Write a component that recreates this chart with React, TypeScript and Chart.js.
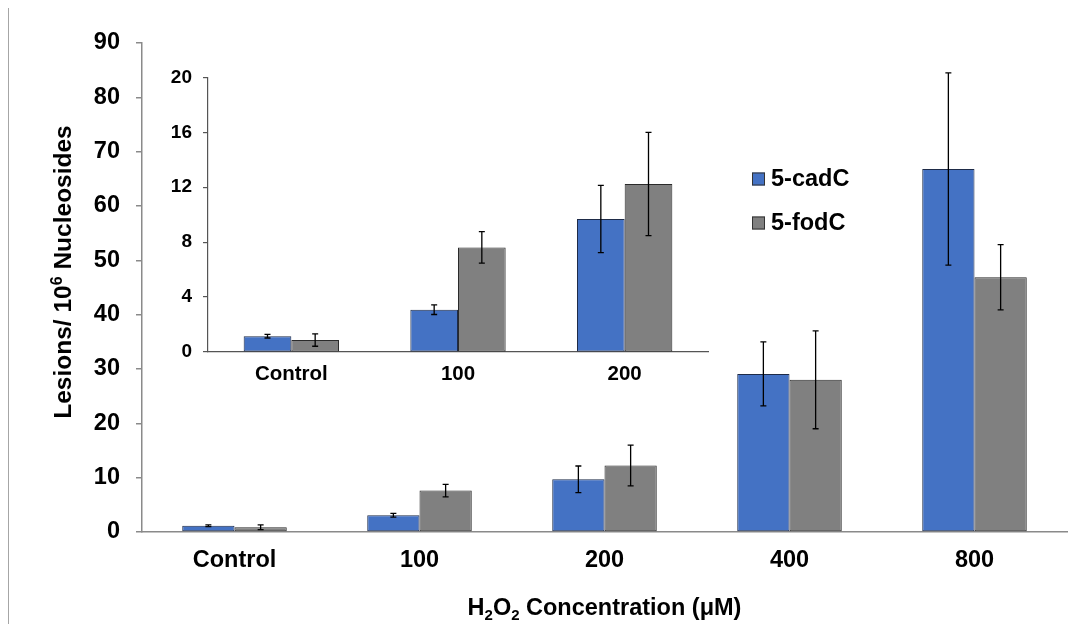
import React, { useEffect, useRef } from "react";
import { Chart, registerables } from "chart.js";

Chart.register(...registerables);

const FONT = "'Liberation Sans', Arial, Helvetica, sans-serif";

// ---------- data ----------
const categories = ["Control", "100", "200", "400", "800"];
const seriesNames = ["5-cadC", "5-fodC"];
const cadC = [1.15, 3.08, 9.7, 29.1, 66.8];
const cadCErr = [0.15, 0.35, 2.45, 5.9, 17.7];
const fodC = [0.87, 7.62, 12.24, 28.0, 46.9];
const fodCErr = [0.45, 1.15, 3.76, 9.0, 6.0];

const insetCategories = ["Control", "100", "200"];
const insetCadC = [1.15, 3.08, 9.69];
const insetCadCErr = [0.13, 0.35, 2.45];
const insetFodC = [0.87, 7.62, 12.24];
const insetFodCErr = [0.45, 1.15, 3.76];

const mainYMin = 0;
const mainYMax = 90;
const mainYStep = 10;
const insetYMin = 0;
const insetYMax = 20;
const insetYStep = 4;

// x title: "H2O2 Concentration (μM)" with real subscripts
const xTitleParts = [
  { text: "H", mode: "" },
  { text: "2", mode: "sub" },
  { text: "O", mode: "" },
  { text: "2", mode: "sub" },
  { text: " Concentration (μM)", mode: "" },
];
// y title: "Lesions/ 10⁶ Nucleosides" with a real superscript
const yTitleParts = [
  { text: "Lesions/ 10", mode: "" },
  { text: "6", mode: "sup" },
  { text: " Nucleosides", mode: "" },
];

// ---------- styles ----------
const BLUE = "#4472C4";
const GRAY = "#808080";
const MAIN_AXIS = "#8a8a8a";
const INSET_AXIS = "#555555";

const errorBarsPlugin = {
  id: "errorBars",
  afterDatasetsDraw(chart: any, _args: any, opts: any) {
    const ctx = chart.ctx;
    const yScale = chart.scales.y;
    chart.data.datasets.forEach((ds: any, i: number) => {
      const errs = ds.errors;
      if (!errs) return;
      const meta = chart.getDatasetMeta(i);
      meta.data.forEach((bar: any, j: number) => {
        const v = ds.data[j];
        const e = errs[j];
        const x = bar.x;
        const yTop = yScale.getPixelForValue(v + e);
        const yBot = yScale.getPixelForValue(v - e);
        ctx.save();
        ctx.strokeStyle = opts.color || "#000";
        ctx.lineWidth = opts.lineWidth || 1.3;
        ctx.beginPath();
        ctx.moveTo(x, yTop);
        ctx.lineTo(x, yBot);
        ctx.moveTo(x - opts.cap, yTop);
        ctx.lineTo(x + opts.cap, yTop);
        ctx.moveTo(x - opts.cap, yBot);
        ctx.lineTo(x + opts.cap, yBot);
        ctx.stroke();
        ctx.restore();
      });
    });
  },
};

const boxLegendPlugin = {
  id: "boxLegend",
  afterDraw(chart: any, _args: any, opts: any) {
    if (!opts || !opts.display) return;
    const ctx = chart.ctx;
    ctx.save();
    chart.data.datasets.forEach((ds: any, i: number) => {
      const cy = opts.y + i * opts.gap;
      const b = opts.box;
      ctx.fillStyle = ds.backgroundColor;
      ctx.fillRect(opts.x, cy - b / 2, b, b);
      ctx.strokeStyle = "#333";
      ctx.lineWidth = 1;
      ctx.strokeRect(opts.x + 0.5, cy - b / 2 + 0.5, b - 1, b - 1);
      ctx.fillStyle = "#000";
      ctx.font = `bold ${opts.size}px ${FONT}`;
      ctx.textBaseline = "middle";
      ctx.textAlign = "left";
      ctx.fillText(ds.label, opts.x + b + opts.textGap, cy + 1);
    });
    ctx.restore();
  },
};

// draws a title made of parts (normal / sub / sup), centred at (x, y), optionally rotated
function drawRichText(ctx: any, parts: any[], x: number, y: number, size: number, rotate: boolean) {
  const smallSize = Math.round(size * 0.64);
  const mainFont = `bold ${size}px ${FONT}`;
  const smallFont = `bold ${smallSize}px ${FONT}`;
  ctx.save();
  let total = 0;
  const widths = parts.map((p: any) => {
    ctx.font = p.mode ? smallFont : mainFont;
    const w = ctx.measureText(p.text).width;
    total += w;
    return w;
  });
  ctx.translate(x, y);
  if (rotate) ctx.rotate(-Math.PI / 2);
  ctx.fillStyle = "#000";
  ctx.textAlign = "left";
  ctx.textBaseline = "alphabetic";
  let cx = -total / 2;
  const baseline = size * 0.36;
  parts.forEach((p: any, i: number) => {
    ctx.font = p.mode ? smallFont : mainFont;
    let by = baseline;
    if (p.mode === "sup") by = baseline - size * 0.36;
    if (p.mode === "sub") by = baseline + size * 0.2;
    ctx.fillText(p.text, cx, by);
    cx += widths[i];
  });
  ctx.restore();
}

const axisTitlesPlugin = {
  id: "richTitles",
  afterDraw(chart: any, _args: any, opts: any) {
    if (!opts || !opts.display) return;
    const area = chart.chartArea;
    drawRichText(chart.ctx, opts.xParts, (area.left + area.right) / 2, opts.xY, opts.size, false);
    drawRichText(chart.ctx, opts.yParts, opts.yX, opts.yY, opts.ySize, true);
  },
};

function makeDataset(label: string, data: number[], errors: number[], color: string, border: string, pct: number) {
  return {
    label,
    data,
    errors,
    backgroundColor: color,
    borderColor: border,
    borderWidth: 1,
    borderSkipped: false,
    categoryPercentage: pct,
    barPercentage: 1,
  } as any;
}

function mainConfig(): any {
  return {
    type: "bar",
    data: {
      labels: categories,
      datasets: [
        makeDataset(seriesNames[0], cadC, cadCErr, BLUE, "#1e2b48", 0.565),
        makeDataset(seriesNames[1], fodC, fodCErr, GRAY, "#2a2a2a", 0.565),
      ],
    },
    plugins: [errorBarsPlugin, boxLegendPlugin, axisTitlesPlugin],
    options: {
      responsive: false,
      animation: false,
      layout: { padding: { left: 0, right: 11, top: 43, bottom: 0 } },
      plugins: {
        legend: { display: false },
        tooltip: { enabled: false },
        errorBars: { color: "#000", lineWidth: 1.3, cap: 3 },
        boxLegend: { display: true, x: 752, y: 179, gap: 44, box: 13, textGap: 6, size: 23.5 },
        richTitles: {
          display: true,
          xParts: xTitleParts,
          yParts: yTitleParts,
          size: 23.5,
          ySize: 24.5,
          xY: 607,
          yX: 62,
          yY: 272,
        },
      },
      scales: {
        x: {
          grid: { display: false, drawTicks: false },
          border: { display: true, color: MAIN_AXIS, width: 1.5 },
          ticks: { color: "#000", font: { family: FONT, size: 23.5, weight: "bold" }, padding: 14 },
          title: { display: false },
          afterFit: (s: any) => {
            s.height = 92;
          },
        },
        y: {
          min: mainYMin,
          max: mainYMax,
          ticks: { stepSize: mainYStep, color: "#000", font: { family: FONT, size: 23.5, weight: "bold" }, padding: 16 },
          grid: { drawOnChartArea: false, drawTicks: true, tickLength: 6, color: MAIN_AXIS, lineWidth: 1.5 },
          border: { display: true, color: MAIN_AXIS, width: 1.5 },
          title: { display: false },
          afterFit: (s: any) => {
            s.width = 142;
          },
        },
      },
    },
  };
}

function insetConfig(): any {
  return {
    type: "bar",
    data: {
      labels: insetCategories,
      datasets: [
        makeDataset(seriesNames[0], insetCadC, insetCadCErr, BLUE, "#1e2b48", 0.572),
        makeDataset(seriesNames[1], insetFodC, insetFodCErr, GRAY, "#2a2a2a", 0.572),
      ],
    },
    plugins: [errorBarsPlugin],
    options: {
      responsive: false,
      animation: false,
      layout: { padding: { left: 0, right: 12, top: 19, bottom: 0 } },
      plugins: {
        legend: { display: false },
        tooltip: { enabled: false },
        errorBars: { color: "#000", lineWidth: 1.3, cap: 3 },
      },
      scales: {
        x: {
          grid: { display: false, drawTicks: false },
          border: { display: true, color: INSET_AXIS, width: 1.2 },
          ticks: { color: "#000", font: { family: FONT, size: 20.5, weight: "bold" }, padding: 10 },
          afterFit: (s: any) => {
            s.height = 43;
          },
        },
        y: {
          min: insetYMin,
          max: insetYMax,
          ticks: { stepSize: insetYStep, color: "#000", font: { family: FONT, size: 19, weight: "bold" }, padding: 11 },
          grid: { drawOnChartArea: false, drawTicks: true, tickLength: 5, color: INSET_AXIS, lineWidth: 1.2 },
          border: { display: true, color: INSET_AXIS, width: 1.2 },
          afterFit: (s: any) => {
            s.width = 58;
          },
        },
      },
    },
  };
}

export default function App() {
  const mainRef = useRef<HTMLCanvasElement>(null);
  const insetRef = useRef<HTMLCanvasElement>(null);

  useEffect(() => {
    const main = new Chart(mainRef.current as HTMLCanvasElement, mainConfig());
    const inset = new Chart(insetRef.current as HTMLCanvasElement, insetConfig());
    return () => {
      main.destroy();
      inset.destroy();
    };
  }, []);

  return (
    <div
      style={{
        position: "fixed",
        left: 0,
        top: 0,
        width: 1078,
        height: 624,
        background: "#fff",
        overflow: "hidden",
      }}
    >
      <div
        style={{
          position: "absolute",
          left: 8,
          top: 8,
          width: 0,
          height: 616,
          borderLeft: "1px solid #a6a6a6",
        }}
      />
      <canvas
        ref={mainRef}
        width={1078}
        height={624}
        style={{ position: "absolute", left: 0, top: 0, width: 1078, height: 624 }}
      />
      <canvas
        ref={insetRef}
        width={570}
        height={340}
        style={{ position: "absolute", left: 150, top: 55, width: 570, height: 340 }}
      />
    </div>
  );
}
